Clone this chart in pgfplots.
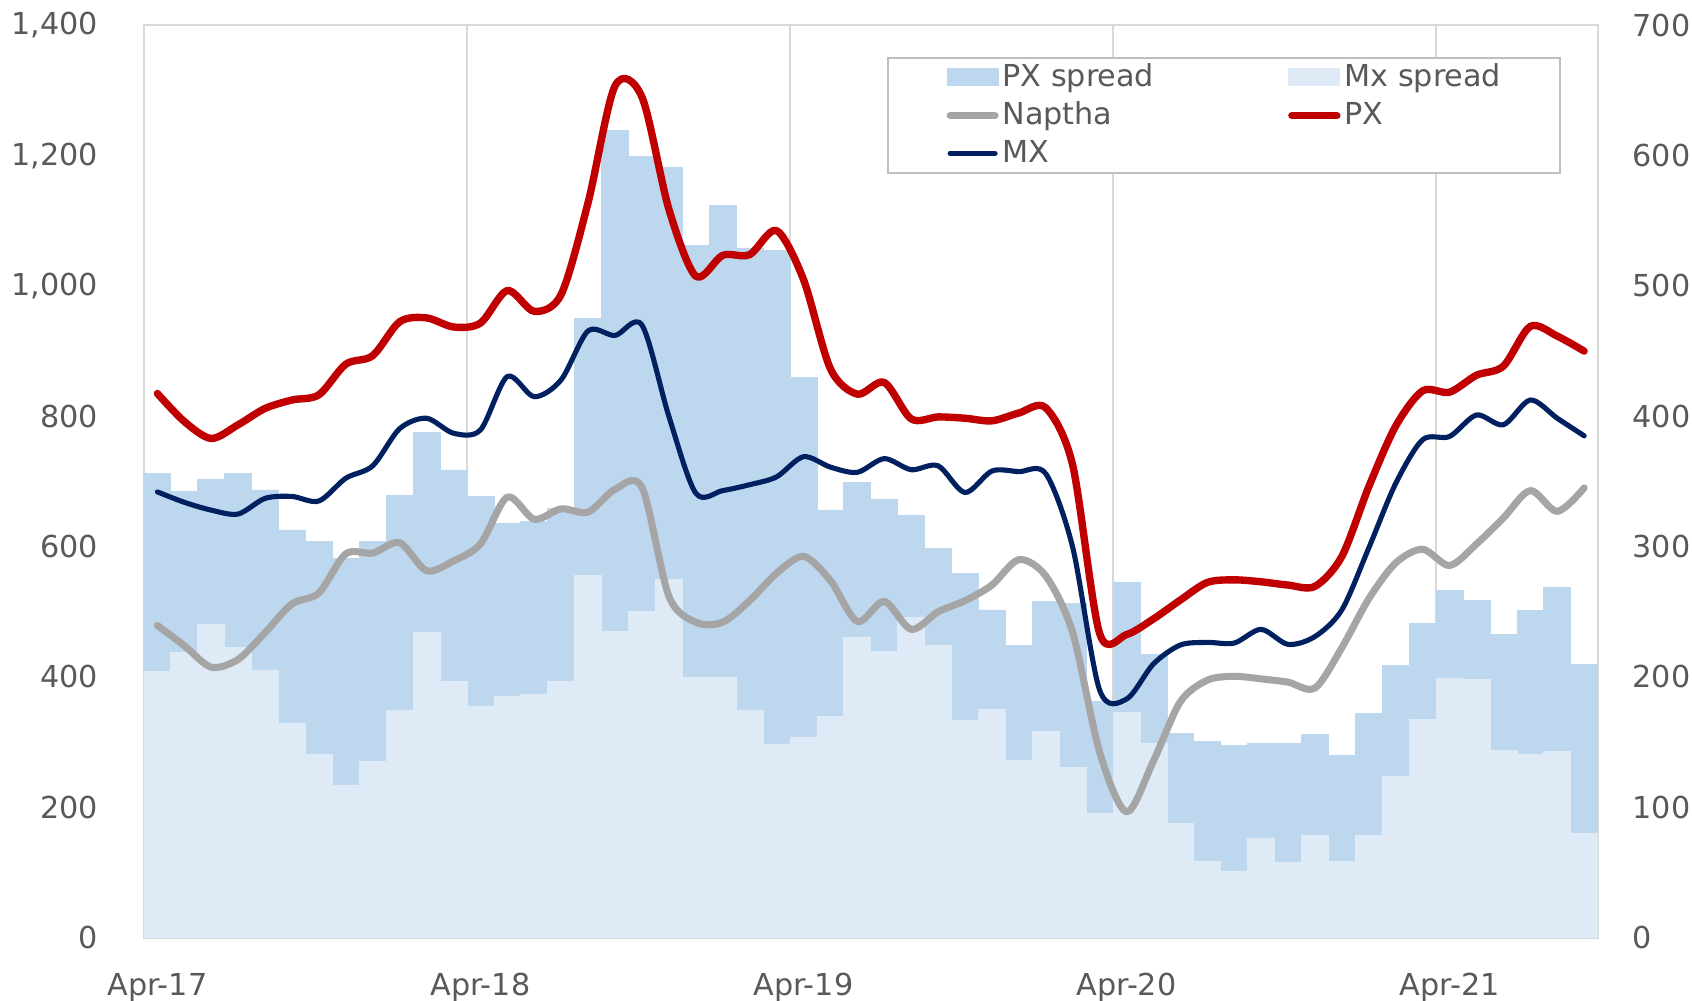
\documentclass[border=0pt]{standalone}
\usepackage{fontspec}
\setmainfont{DejaVu Sans}
\usepackage{pgfplots}
\pgfplotsset{compat=1.18}
\usepackage{pgfplotstable}
\definecolor{pxs}{HTML}{BDD7EE}
\definecolor{mxs}{HTML}{DEEBF7}
\definecolor{nap}{HTML}{A5A5A5}
\definecolor{pxc}{HTML}{C00000}
\definecolor{mxc}{HTML}{002060}
\definecolor{gridc}{HTML}{D9D9D9}
\definecolor{txt}{HTML}{595959}
\definecolor{legc}{HTML}{BFBFBF}

\pgfplotstableread{
i pxs mxs
0 356.4 204.3
1 342.4 219.1
2 351.8 240.1
3 356.4 222.9
4 343.5 205.4
5 312.8 164.7
6 304.2 140.3
7 290.7 117.1
8 303.8 135.1
9 339.2 174.7
10 387.5 234.4
11 358.8 196.5
12 338.6 177.1
13 317.6 185.2
14 319.0 186.3
15 329.7 196.5
16 475.2 277.8
17 619.0 234.7
18 599.3 250.3
19 591.1 274.5
20 531.2 200.0
21 561.9 200.0
22 529.2 174.7
23 527.1 148.6
24 430.0 154.0
25 328.1 169.6
26 349.4 230.7
27 335.9 219.4
28 323.8 245.8
29 298.5 224.5
30 279.7 166.9
31 251.4 175.2
32 224.5 135.7
33 258.1 158.0
34 256.5 130.8
35 181.4 95.0
36 272.7 173.1
37 217.0 149.4
38 156.9 87.5
39 150.2 58.4
40 147.5 51.2
41 149.4 76.5
42 149.1 57.9
43 155.6 78.1
44 140.0 58.4
45 171.7 78.1
46 208.9 124.1
47 240.9 167.7
48 266.5 199.2
49 258.9 197.9
50 232.6 143.5
51 250.9 140.3
52 268.4 142.7
53 209.7 79.7
}\spreads

\pgfplotstableread{
i nap px mx
0 479 835 684
1 448 792 668
2 415 766 656
3 427 787 650
4 468 812 674
5 512 825 677
6 529 833 670
7 589 880 705
8 590 893 724
9 606 945 781
10 563 951 797
11 578 937 774
12 604 943 779
13 676 993 861
14 642 961 830
15 658 987 856
16 653 1128 931
17 688 1307 924
18 691 1290 940
19 524 1118 800
20 484 1015 682
21 484 1047 686
22 517 1048 695
23 559 1085 707
24 585 1010 738
25 548 873 722
26 485 834 714
27 516 852 735
28 473 796 718
29 500 799 724
30 517 797 683
31 541 793 716
32 580 805 715
33 555 813 712
34 468 725 599
35 285 467 380
36 193 465 366
37 271 489 420
38 362 518 449
39 395 545 453
40 401 549 452
41 397 546 473
42 392 541 450
43 383 539 462
44 445 585 503
45 520 692 598
46 575 785 697
47 596 839 764
48 571 837 769
49 604 863 802
50 644 877 787
51 686 938 825
52 654 923 797
53 690 900 770
}\prices

\pgfplotsset{
  common/.style={
    scale only axis, width=145.37mm, height=91.23mm,
    xmin=-0.5, xmax=53.5,
    tick label style={font=\fontsize{8.6}{10}\selectfont, text=txt},
    /pgf/number format/assume math mode=true,
    /pgf/number format/1000 sep={,},
    major tick length=0pt, minor tick length=0pt,
  },
  arealeg/.style={legend image code/.code={\path[draw=none, fill=#1] (0mm,-0.9mm) rectangle (5.2mm,0.9mm);}},
  lineleg/.style={legend image code/.code={\path[draw=none, fill=none] (0mm,-0.9mm) rectangle (5.2mm,0.9mm); \draw[##1, fill=none] (0.35mm,0mm) -- (4.85mm,0mm);}},
}

\begin{document}
\begin{tikzpicture}
\begin{axis}[common, ymin=0, ymax=700, ytick={0,100,...,700}, yticklabel pos=right,
  yticklabel style={xshift=2.27mm},
  xtick={0,12,24,36,48}, xticklabels={Apr-17,Apr-18,Apr-19,Apr-20,Apr-21},
  xticklabel style={yshift=-2.33mm},
  minor xtick={11.5,23.5,35.5,47.5}, xminorgrids=true, xmajorgrids=false, ymajorgrids=false,
  minor grid style={gridc, line width=0.6pt},
  axis line style={gridc, line width=0.6pt},
]
\addplot[ybar, bar width=1, bar shift=0pt, fill=pxs, draw=pxs, line width=0.2pt] table[x=i, y=pxs]{\spreads};
\addplot[ybar, bar width=1, bar shift=0pt, fill=mxs, draw=mxs, line width=0.2pt] table[x=i, y=mxs]{\spreads};
\coordinate (bl) at (rel axis cs:0,0);
\coordinate (tr) at (rel axis cs:1,1);
\end{axis}
\begin{axis}[common, ymin=0, ymax=1400, ytick={0,200,...,1400},
  hide x axis, axis y line*=left, y axis line style={draw=none},
  yticklabel style={xshift=-3.35mm},
  legend columns=2, legend cell align=left,
  legend style={at={(0.5112,0.9653)}, anchor=north west, draw=legc, line width=0.6pt, fill=white,
    font=\fontsize{8.6}{10}\selectfont, text=txt,
    inner xsep=5.85mm, inner ysep=0.45mm, row sep=0.8mm,
    nodes={inner sep=0pt, text height=2.4mm, text depth=0.6mm},
    /tikz/every odd column/.append style={column sep=0.4mm},
    /tikz/every even column/.append style={column sep=13.4mm}},
]
\addlegendimage{arealeg=pxs}
\addlegendentry{PX spread}
\addlegendimage{arealeg=mxs}
\addlegendentry{Mx spread}
\addplot[nap, line width=2pt, smooth, line cap=round, line join=round, lineleg]
  table[x=i, y=nap]{\prices};
\addlegendentry{Naptha}
\addplot[pxc, line width=2.1pt, smooth, line cap=round, line join=round, lineleg]
  table[x=i, y=px]{\prices};
\addlegendentry{PX}
\addplot[mxc, line width=1.45pt, smooth, line cap=round, line join=round, lineleg]
  table[x=i, y=mx]{\prices};
\addlegendentry{MX}
\end{axis}
\pgfresetboundingbox
\path ([shift={(-14.39mm,-6.24mm)}]bl) rectangle ([shift={(9.44mm,2.53mm)}]tr);
\end{tikzpicture}
\end{document}
